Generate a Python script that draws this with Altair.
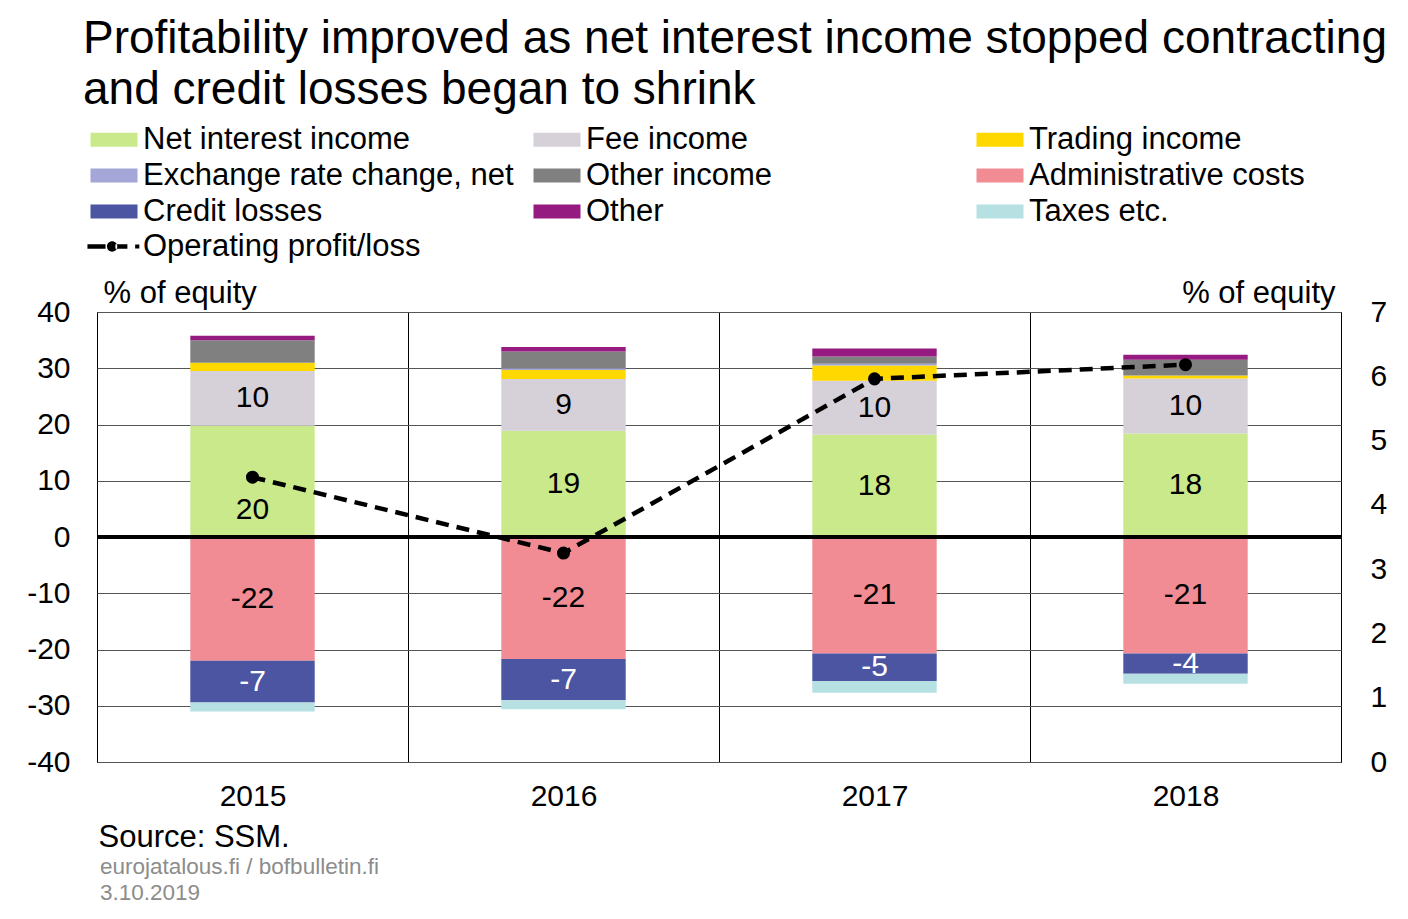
import altair as alt
import pandas as pd

# ---------------- data ----------------
years = ["2015", "2016", "2017", "2018"]
series_names = [
    "Net interest income", "Fee income", "Trading income",
    "Exchange rate change, net", "Other income", "Administrative costs",
    "Credit losses", "Other", "Taxes etc.",
]
series_colors = [
    "#C9E98A", "#D6D0D8", "#FFD800",
    "#A3A6D6", "#808080", "#F18C94",
    "#4C55A2", "#961B80", "#B6E0E2",
]
line_name = "Operating profit/loss"
net_interest = [19.8, 18.9, 18.2, 18.4]
fee_income = [9.7, 9.2, 9.6, 9.8]
trading_income = [1.5, 1.6, 2.7, 0.5]
exchange_rate = [0.0, 0.3, 0.3, 0.0]
other_income = [4.0, 3.0, 1.3, 2.8]
admin_costs = [-22.0, -21.7, -20.7, -20.7]
credit_losses = [-7.4, -7.3, -4.9, -3.6]
other = [0.8, 0.8, 1.4, 0.9]
taxes = [-1.6, -1.6, -2.1, -1.8]
operating_profit = [4.43, 3.25, 5.96, 6.18]
labelled = ["Net interest income", "Fee income", "Administrative costs", "Credit losses"]

bar_series = [net_interest, fee_income, trading_income, exchange_rate,
              other_income, admin_costs, credit_losses, other, taxes]

rows = []
for i, vals in enumerate(bar_series):
    for y, v in zip(years, vals):
        rows.append({"year": y, "series": series_names[i], "value": v,
                     "order": i, "lab": series_names[i] in labelled})
df = pd.DataFrame(rows)
df_op = pd.DataFrame({"year": years, "series": line_name, "value": operating_profit})
df_foot = pd.DataFrame({"t": ["eurojatalous.fi  / bofbulletin.fi\n3.10.2019"]})

FONT = "Liberation Sans"
LEG_FS = 31
AX_FS = 30
# symbols drawn wider than their nominal size (sqrt(900)=30px nominal, 47px drawn)
RECT = "M-1.567,-0.467L1.567,-0.467L1.567,0.467L-1.567,0.467Z"
LINE_SYM = ("M-1.77,-0.157L-0.564,-0.157L-0.564,0.157L-1.77,0.157Z "
            "M-0.47,0A0.345,0.345 0 1,0 0.22,0A0.345,0.345 0 1,0 -0.47,0Z "
            "M0.094,-0.157L0.893,-0.157L0.893,0.157L0.094,0.157Z "
            "M1.41,-0.141L1.69,-0.141L1.69,0.141L1.41,0.141Z")

common_legend = dict(
    title=None, orient="none", labelFontSize=LEG_FS, labelFont=FONT,
    labelColor="black", labelLimit=0, labelOffset=13.5, symbolSize=900,
    symbolStrokeWidth=0, symbolOpacity=1, padding=0,
)
bar_legend = alt.Legend(
    legendX=1.5, legendY=-188, columns=3, direction="horizontal",
    gridAlign="all", columnPadding=18, rowPadding=4, symbolType=RECT,
    **common_legend,
)
line_legend = alt.Legend(
    legendX=1.5, legendY=-81, symbolType=LINE_SYM,
    symbolFillColor="black", **common_legend,
)

x_enc = alt.X(
    "year:N", scale=alt.Scale(paddingInner=0, paddingOuter=0),
    axis=alt.Axis(
        orient="bottom", domain=False, ticks=False, tickSize=0, tickBand="extent",
        grid=True, gridColor="black", gridWidth=1, labelAngle=0,
        labelFontSize=AX_FS, labelFont=FONT, labelColor="black", labelPadding=19,
        title="Source: SSM.", titleAlign="left", titleX=1, titleY=84,
        titleBaseline="alphabetic", titleFontSize=31, titleFont=FONT,
        titleFontWeight="normal", titleColor="black",
    ),
)

left_axis = alt.Axis(
    orient="left", domain=False, ticks=False, tickSize=0, labelPadding=27,
    labelFontSize=AX_FS, labelFont=FONT, labelColor="black",
    values=list(range(-40, 41, 10)), grid=True, gridColor="#555555", gridWidth=1,
    title="% of equity", titleAngle=0, titleAlign="left", titleX=6, titleY=-10,
    titleBaseline="alphabetic", titleFontSize=31, titleFont=FONT,
    titleFontWeight="normal", titleColor="black",
)
right_axis = alt.Axis(
    orient="right", domain=False, ticks=False, tickSize=0, labelPadding=29,
    labelFontSize=AX_FS, labelFont=FONT, labelColor="black",
    values=list(range(0, 8)), grid=False,
    title="% of equity", titleAngle=0, titleAlign="right", titleX=-6, titleY=-10,
    titleBaseline="alphabetic", titleFontSize=31, titleFont=FONT,
    titleFontWeight="normal", titleColor="black",
)

base = alt.Chart(df).transform_stack(
    stack="value", groupby=["year"], as_=["y0", "y1"],
    sort=[alt.SortField("order", order="ascending")], offset="zero",
)

bars = base.mark_bar(width=alt.RelativeBandSize(0.4)).encode(
    x=x_enc,
    y=alt.Y("y0:Q", scale=alt.Scale(domain=[-40, 40]), axis=left_axis),
    y2="y1:Q",
    fill=alt.Fill("series:N", scale=alt.Scale(domain=series_names, range=series_colors),
                  legend=bar_legend),
)

zero_rule = alt.Chart(df_op).mark_rule(color="black", strokeWidth=3.5).encode(
    y=alt.datum(0)
)

lab_base = base.transform_calculate(mid="(datum.y0 + datum.y1) / 2").transform_filter(
    "datum.lab"
)
text_enc = dict(
    x="year:N",
    y="mid:Q",
    text=alt.Text("value:Q", format=".0f"),
    color=alt.condition("datum.series === 'Credit losses'", alt.value("white"),
                        alt.value("black")),
)
labels = lab_base.transform_filter(
    "!(datum.year === '2015' && datum.series === 'Net interest income')"
).mark_text(fontSize=AX_FS, font=FONT).encode(**text_enc)
label_2015 = lab_base.transform_filter(
    "datum.year === '2015' && datum.series === 'Net interest income'"
).mark_text(fontSize=AX_FS, font=FONT, dy=29).encode(**text_enc)

footer = alt.Chart(df_foot).mark_text(
    align="left", baseline="middle", fontSize=22.5, font=FONT, color="#8C8C8C",
    lineBreak="\n", lineHeight=26,
).encode(x=alt.value(3), y=alt.value(555), text="t:N")

line = alt.Chart(df_op).mark_line(
    color="black", strokeWidth=4.5, strokeDash=[13, 8]
).encode(
    x="year:N",
    y=alt.Y("value:Q", scale=alt.Scale(domain=[0, 7]), axis=right_axis),
)
points = alt.Chart(df_op).mark_point(
    filled=True, size=170, opacity=1, strokeWidth=0, color="black"
).encode(
    x="year:N",
    y=alt.Y("value:Q", scale=alt.Scale(domain=[0, 7]), axis=right_axis),
)
# legend-only layer for the line series (no data drawn)
line_key = alt.Chart(df_op).transform_filter("false").mark_point(
    filled=True, color="black", opacity=1
).encode(
    shape=alt.Shape("series:N", scale=alt.Scale(domain=[line_name], range=[LINE_SYM]),
                    legend=line_legend),
)

left = alt.layer(bars, zero_rule, labels, label_2015, footer)
right = alt.layer(line, points)

chart = alt.layer(left, right, line_key).resolve_scale(y="independent").properties(
    width=1244, height=450,
    autosize=alt.AutoSizeParams(type="none"),
    padding={"left": 89, "top": 304, "right": 59, "bottom": 149},
    title=alt.TitleParams(
        text=["Profitability improved as net interest income stopped contracting",
              "and credit losses began to shrink"],
        anchor="start", frame="group", fontSize=46, font=FONT,
        fontWeight="normal", color="black", lineHeight=51, dx=-14, dy=0, offset=10,
    ),
).configure(
    font=FONT,
    locale=alt.Locale(number=alt.NumberLocale(
        decimal=".", thousands=",", grouping=[3], currency=["", ""], minus="-")),
).configure_view(stroke="black", strokeWidth=1)

chart.save("out.html", embed_options={"renderer": "svg", "actions": False})
